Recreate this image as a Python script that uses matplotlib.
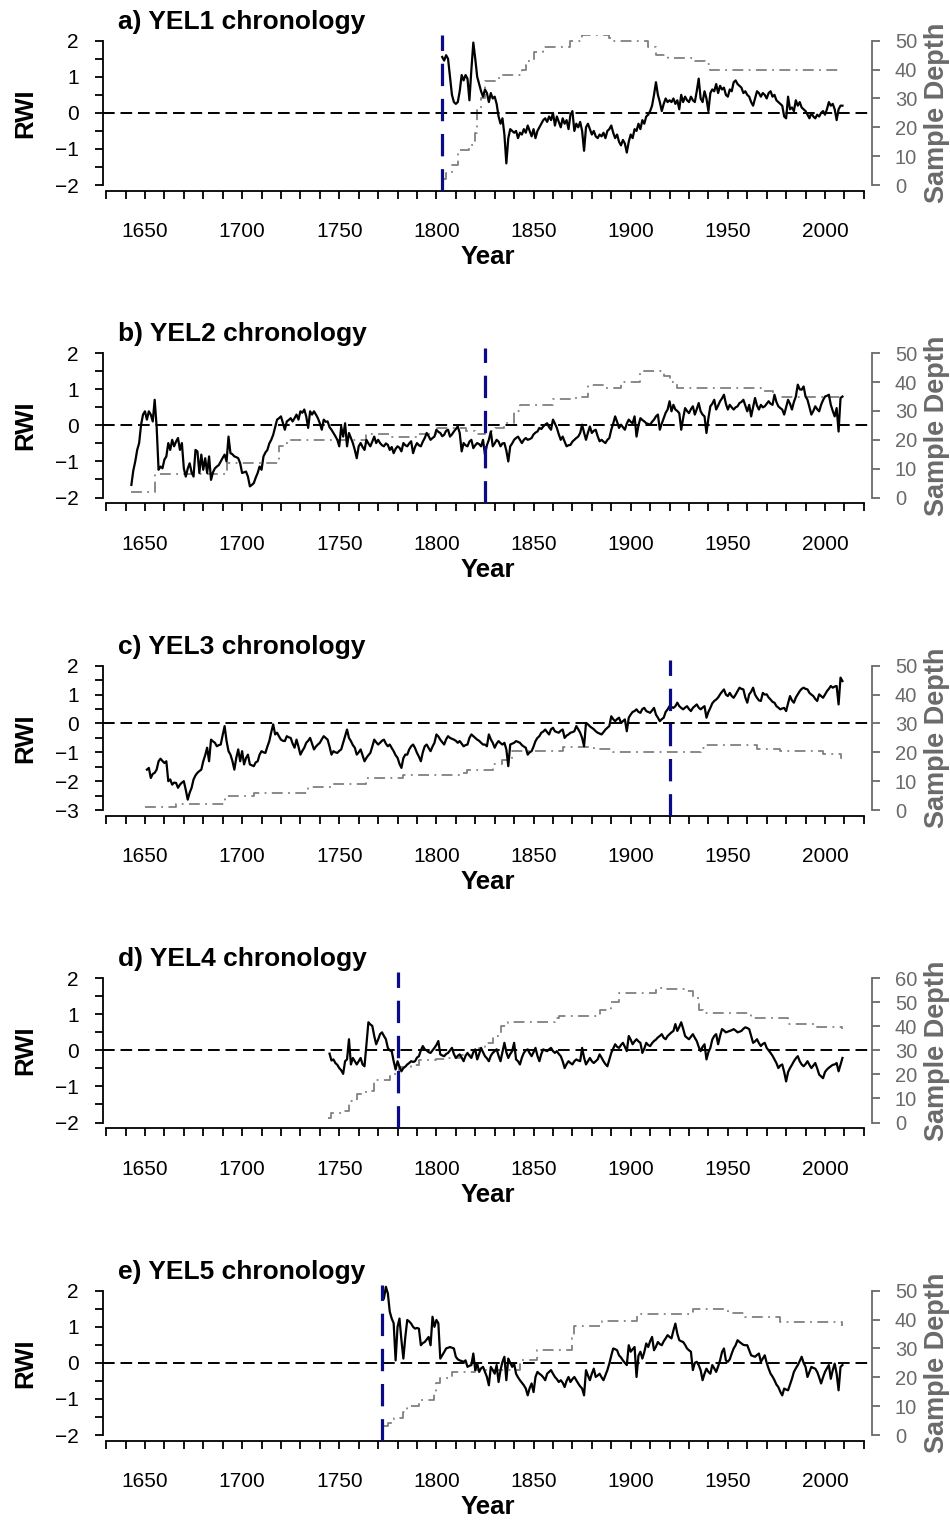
import numpy as np
import matplotlib
matplotlib.use("Agg")
import matplotlib.pyplot as plt
from matplotlib.ticker import FixedLocator, FuncFormatter

plt.rcParams['font.family'] = ['Liberation Sans', 'DejaVu Sans']

# ---- data ----
titles = ["a) YEL1 chronology", "b) YEL2 chronology", "c) YEL3 chronology",
          "d) YEL4 chronology", "e) YEL5 chronology"]

# first year of each RWI series (annual values follow)
rwi_start = [1803, 1643, 1651, 1745, 1773]

rwi_a = [1.55, 1.45, 1.6, 1.5, 1.0, 0.5, 0.3, 0.25, 0.3, 0.6, 1.05, 0.9, 1.05, 0.95, 0.35, 1.2, 1.95,
         1.5, 1.0, 0.8, 0.6, 0.45, 0.65, 0.55, 0.3, 0.55, 0.4, 0.45, 0.25, -0.1, -0.3, -0.15, -0.6,
         -1.4, -0.7, -0.45, -0.5, -0.55, -0.5, -0.7, -0.55, -0.6, -0.45, -0.55, -0.35, -0.5, -0.65,
         -0.45, -0.7, -0.5, -0.4, -0.3, -0.2, -0.15, -0.25, -0.1, -0.2, 0.0, -0.35, -0.1, -0.25, -0.4,
         -0.15, -0.3, -0.2, -0.45, -0.05, 0.05, -0.5, -0.3, -0.4, -0.25, -0.5, -1.05, -0.4, -0.3,
         -0.45, -0.6, -0.5, -0.65, -0.7, -0.6, -0.65, -0.55, -0.7, -0.5, -0.45, -0.35, -0.55, -0.7,
         -0.6, -0.8, -0.9, -0.75, -0.85, -1.1, -0.8, -0.6, -0.7, -0.45, -0.5, -0.3, -0.45, -0.2, -0.3,
         -0.1, -0.05, 0.05, 0.2, 0.5, 0.85, 0.5, 0.3, 0.05, 0.25, 0.4, 0.3, 0.35, 0.3, 0.4, 0.25, 0.35,
         0.1, 0.5, 0.3, 0.45, 0.35, 0.3, 0.45, 0.35, 0.3, 0.6, 0.95, 0.4, 0.3, 0.6, 0.4, 0.05, 0.55,
         0.65, 0.6, 0.8, 0.55, 0.75, 0.65, 0.7, 0.5, 0.45, 0.65, 0.6, 0.85, 0.9, 0.8, 0.75, 0.7, 0.55,
         0.6, 0.5, 0.45, 0.3, 0.2, 0.4, 0.6, 0.55, 0.45, 0.55, 0.5, 0.4, 0.55, 0.6, 0.45, 0.5, 0.35,
         0.3, 0.25, 0.2, -0.1, -0.15, 0.45, 0.1, 0.15, 0.05, 0.35, 0.2, 0.3, 0.15, 0.1, 0.05, -0.05,
         -0.15, 0.0, -0.1, -0.15, -0.05, -0.1, 0.0, 0.05, -0.05, 0.1, 0.3, 0.2, 0.25, 0.1, -0.2, 0.1,
         0.2, 0.2]

rwi_b = [-1.65, -1.25, -1.0, -0.68, -0.49, 0.02, 0.3,
         0.39, 0.16, 0.39, 0.3, 0.11, 0.71, -0.03, -1.23, -1.14, -1.19,
         -0.95, -0.86, -0.49, -0.68, -0.4, -0.58, -0.45, -0.35, -0.68, -0.49,
         -1.19, -1.42, -1.2, -1.05, -1.3, -1.42, -0.68, -0.72, -1.32, -0.81,
         -1.23, -0.91, -1.32, -0.86, -1.51, -1.3, -1.19, -1.14, -1.1, -1.0,
         -0.9, -0.81, -1.0, -0.31, -0.77, -0.8, -0.86, -0.88, -0.91, -1.05,
         -1.32, -1.3, -1.28, -1.42, -1.69, -1.65, -1.6, -1.45, -1.32, -1.14,
         -1.23, -0.86, -0.75, -0.68, -0.5, -0.4, -0.26, -0.05, 0.16, 0.2,
         0.25, 0.06, -0.12, 0.11, 0.15, 0.2, 0.11, 0.2, 0.3, 0.16,
         0.39, 0.35, 0.44, 0.25, -0.07, 0.39, 0.3, 0.39, 0.3, 0.2,
         0.06, -0.12, 0.16, 0.1, 0.11, -0.05, -0.12, -0.21, -0.3, -0.4,
         -0.58, -0.03, -0.31, 0.06, -0.58, -0.21, -0.35, -0.49, -0.68, -0.91,
         -0.58, -0.49, -0.6, -0.68, -0.4, -0.5, -0.58, -0.45, -0.31, -0.49,
         -0.4, -0.49, -0.55, -0.58, -0.5, -0.54, -0.68, -0.6, -0.77, -0.65,
         -0.58, -0.62, -0.72, -0.49, -0.55, -0.58, -0.5, -0.44, -0.77, -0.6,
         -0.49, -0.55, -0.58, -0.45, -0.35, -0.21, -0.3, -0.4, -0.35, -0.31,
         -0.12, -0.18, -0.21, -0.3, -0.26, -0.15, -0.12, -0.31, -0.25, -0.17,
         -0.1, -0.03, -0.21, -0.72, -0.49, -0.55, -0.58, -0.45, -0.4, -0.63,
         -0.55, -0.49, -0.52, -0.58, -0.4, -0.81, -0.55, -0.4, -0.17, -0.58,
         -0.5, -0.4, -0.45, -0.58, -0.5, -0.49, -0.7, -1.0, -0.58, -0.5,
         -0.4, -0.35, -0.31, -0.4, -0.49, -0.4, -0.35, -0.4, -0.38, -0.35,
         -0.25, -0.2, -0.17, -0.07, -0.1, -0.03, 0.02, 0.06, -0.05, -0.12,
         0.16, 0.05, -0.07, -0.25, -0.4, -0.31, -0.45, -0.58, -0.55, -0.54,
         -0.45, -0.4, -0.35, -0.31, -0.21, 0.02, -0.2, -0.4, -0.2, -0.03,
         -0.21, -0.15, -0.12, -0.3, -0.44, -0.4, -0.45, -0.49, -0.4, -0.35,
         -0.12, 0.05, 0.25, 0.1, -0.07, 0.02, -0.05, -0.12, 0.05, 0.16,
         0.1, 0.06, 0.25, -0.31, 0.0, 0.2, 0.15, 0.11, 0.06, 0.04,
         0.02, 0.1, 0.16, 0.25, 0.3, -0.12, 0.05, 0.2, 0.35, 0.44,
         0.67, 0.39, 0.57, 0.44, 0.4, 0.34, -0.12, 0.2, 0.48, 0.4,
         0.34, 0.45, 0.53, 0.3, 0.45, 0.62, 0.39, 0.3, 0.25, -0.21,
         0.2, 0.53, 0.6, 0.71, 0.44, 0.55, 0.67, 0.75, 0.85, 0.6,
         0.44, 0.57, 0.5, 0.44, 0.5, 0.53, 0.62, 0.65, 0.71, 0.55,
         0.39, 0.57, 0.25, 0.5, 0.76, 0.55, 0.44, 0.57, 0.5, 0.53,
         0.6, 0.67, 0.6, 0.57, 0.85, 0.65, 0.53, 0.48, 0.44, 0.3,
         0.5, 0.71, 0.6, 0.44, 0.65, 0.8, 1.13, 1.0, 0.99, 1.08,
         0.8, 0.71, 0.5, 0.3, 0.4, 0.53, 0.45, 0.39, 0.57, 0.7,
         0.8, 0.82, 0.85, 0.57, 0.4, 0.25, 0.48, -0.17, 0.76, 0.8]

rwi_c = [-1.6, -1.54, -1.89, -1.75, -1.71, -1.6, -1.31, -1.22, -1.3,
         -1.37, -1.31, -2.0, -1.94, -2.12, -2.05, -2.06, -2.23, -2.12, -2.05,
         -2.0, -2.3, -2.64, -2.4, -2.23, -1.94, -1.8, -1.71, -1.65, -1.6,
         -1.31, -1.1, -0.84, -1.31, -0.56, -0.62, -0.67, -0.79, -0.75, -0.73,
         -0.4, -0.09, -0.61, -0.96, -1.08, -1.3, -1.6, -1.19, -0.9, -1.31,
         -0.96, -1.42, -1.2, -1.08, -1.42, -1.45, -1.48, -1.35, -1.31, -1.08,
         -0.96, -1.0, -1.02, -0.8, -0.61, -0.3, -0.03, -0.38, -0.32, -0.45,
         -0.56, -0.6, -0.61, -0.44, -0.48, -0.5, -0.7, -0.84, -0.56, -0.8,
         -1.08, -0.95, -0.84, -0.67, -0.6, -0.5, -0.7, -0.9, -0.8, -0.73,
         -0.67, -0.55, -0.44, -0.5, -0.56, -0.8, -1.08, -0.96, -1.0, -1.02,
         -0.95, -0.9, -0.67, -0.45, -0.21, -0.5, -0.61, -0.75, -0.84, -1.08,
         -1.0, -0.9, -1.1, -1.31, -1.19, -1.1, -1.02, -0.8, -0.56, -0.65,
         -0.73, -0.67, -0.6, -0.56, -0.7, -0.79, -0.73, -0.85, -0.96, -1.1,
         -1.19, -1.4, -1.54, -1.2, -1.08, -1.08, -0.9, -0.79, -0.73, -0.85,
         -1.02, -1.15, -1.31, -1.0, -0.79, -0.73, -0.85, -0.96, -0.8, -0.67,
         -0.38, -0.45, -0.56, -0.65, -0.73, -0.55, -0.44, -0.5, -0.53, -0.56,
         -0.6, -0.67, -0.61, -0.7, -0.79, -0.75, -0.73, -0.5, -0.38, -0.44,
         -0.5, -0.56, -0.6, -0.67, -0.73, -0.73, -0.79, -0.38, -0.55, -0.67,
         -0.84, -0.7, -0.61, -0.68, -0.73, -0.67, -0.9, -1.48, -0.73, -0.7,
         -0.67, -0.61, -0.64, -0.67, -0.75, -0.8, -0.84, -1.08, -1.0, -0.96,
         -0.8, -0.61, -0.5, -0.44, -0.32, -0.28, -0.21, -0.3, -0.38, -0.2,
         -0.15, -0.27, -0.3, -0.32, -0.25, -0.21, -0.5, -0.42, -0.38, -0.32,
         -0.3, -0.27, -0.09, -0.2, -0.32, -0.5, -0.79, 0.02, -0.03, -0.1,
         -0.15, -0.2, -0.27, -0.32, -0.35, -0.38, -0.3, -0.21, -0.15, -0.09,
         0.25, 0.15, 0.08, 0.15, 0.2, 0.02, 0.08, 0.14, -0.27, 0.2,
         0.31, 0.4, 0.43, 0.49, 0.4, 0.37, 0.5, 0.54, 0.43, 0.4,
         0.37, 0.45, 0.54, 0.31, 0.2, 0.08, 0.15, 0.2, 0.4, 0.49,
         0.6, 0.57, 0.54, 0.6, 0.72, 0.6, 0.54, 0.49, 0.55, 0.6,
         0.5, 0.43, 0.54, 0.6, 0.66, 0.55, 0.49, 0.55, 0.6, 0.2,
         0.4, 0.54, 0.7, 0.78, 0.83, 0.9, 1.01, 1.1, 1.18, 1.0,
         0.95, 1.06, 0.95, 0.89, 1.0, 1.12, 1.24, 1.2, 1.18, 0.9,
         0.72, 1.01, 1.1, 1.24, 1.0, 0.89, 0.8, 0.78, 1.06, 1.0,
         1.01, 0.9, 0.83, 0.75, 0.72, 0.6, 0.55, 0.49, 0.52, 0.54,
         0.43, 0.7, 0.95, 0.8, 0.72, 0.9, 1.01, 1.12, 1.2, 1.24,
         1.2, 1.18, 1.06, 1.0, 0.95, 0.85, 0.78, 1.01, 0.95, 0.89,
         1.0, 1.12, 1.2, 1.3, 1.24, 1.28, 1.3, 0.66, 1.59, 1.47]

rwi_d = [-0.09, -0.28, -0.25, -0.35, -0.4,
         -0.49, -0.55, -0.65, -0.3, -0.25, 0.31, -0.39, -0.21, -0.3, -0.39,
         -0.3, -0.21, -0.39, -0.44, 0.17, 0.78, 0.72, 0.68, 0.4, 0.17,
         0.3, 0.45, 0.5, 0.4, 0.31, 0.07, 0.0, -0.02, -0.3, -0.53,
         -0.3, -0.45, -0.58, -0.49, -0.45, -0.39, -0.35, -0.3, -0.32, -0.3,
         -0.2, -0.16, 0.0, 0.12, 0.03, 0.0, -0.05, -0.07, 0.0, 0.07,
         0.15, 0.26, -0.11, -0.14, -0.16, -0.1, -0.07, 0.0, 0.07, -0.1,
         -0.21, -0.15, -0.11, -0.2, -0.3, -0.15, -0.07, -0.15, -0.21, -0.05,
         0.03, -0.25, -0.1, 0.07, -0.05, -0.16, -0.22, -0.3, -0.15, -0.07,
         -0.02, 0.03, -0.15, -0.3, -0.05, 0.21, -0.05, -0.21, -0.1, -0.02,
         0.21, -0.25, -0.3, -0.39, -0.2, -0.07, 0.0, 0.03, -0.08, -0.16,
         -0.05, 0.07, -0.15, -0.3, -0.1, 0.03, 0.0, -0.02, 0.03, 0.07,
         -0.02, -0.07, -0.02, -0.1, -0.16, -0.3, -0.49, -0.38, -0.3, -0.35,
         -0.39, -0.3, -0.25, -0.28, -0.3, 0.07, -0.2, -0.39, -0.3, -0.21,
         -0.3, -0.35, -0.3, -0.25, -0.11, -0.2, -0.3, -0.38, -0.44, -0.25,
         -0.07, 0.05, 0.17, 0.1, 0.07, 0.15, 0.21, 0.1, -0.02, 0.4,
         0.3, 0.17, 0.25, 0.31, 0.25, 0.21, -0.07, 0.05, 0.21, 0.15,
         0.12, 0.2, 0.26, 0.3, 0.36, 0.4, 0.45, 0.35, 0.31, 0.4,
         0.45, 0.5, 0.54, 0.73, 0.54, 0.65, 0.78, 0.6, 0.4, 0.35,
         0.31, 0.38, 0.45, 0.35, 0.26, 0.1, -0.02, 0.1, 0.17, -0.25,
         -0.05, 0.07, 0.3, 0.4, 0.45, 0.17, 0.4, 0.59, 0.55, 0.5,
         0.52, 0.54, 0.56, 0.59, 0.55, 0.5, 0.52, 0.54, 0.6, 0.64,
         0.62, 0.59, 0.4, 0.21, 0.25, 0.31, 0.2, 0.12, 0.18, 0.21,
         0.07, 0.0, -0.07, -0.15, -0.25, -0.35, -0.49, -0.42, -0.39, -0.6,
         -0.86, -0.6, -0.49, -0.4, -0.3, -0.22, -0.16, -0.3, -0.39, -0.44,
         -0.38, -0.3, -0.4, -0.49, -0.42, -0.35, -0.5, -0.67, -0.72, -0.77,
         -0.6, -0.53, -0.48, -0.44, -0.4, -0.39, -0.35, -0.58, -0.4, -0.21]

rwi_e = [1.79, 2.11, 1.93, 1.42, 1.23, 1.1, 0.07,
         1.0, 1.23, 0.63, 0.12, 0.72, 1.19, 1.15, 1.09, 1.0, 0.95,
         0.97, 0.95, 0.49, 0.55, 0.58, 0.65, 0.72, 0.49, 1.28, 1.0,
         1.19, 1.1, 0.12, 0.21, 0.3, 0.4, 0.42, 0.44, 0.42, 0.4,
         0.17, 0.1, 0.07, 0.05, 0.03, 0.07, -0.11, -0.08, -0.06, 0.26,
         -0.2, -0.02, -0.25, -0.15, -0.11, -0.25, -0.39, -0.62, -0.11, -0.2,
         -0.3, -0.06, -0.53, -0.2, 0.03, 0.17, -0.48, 0.12, 0.0, -0.11,
         -0.02, -0.3, -0.4, -0.48, -0.55, -0.62, -0.71, -0.9, -0.7, -0.57,
         -0.81, -0.39, -0.25, -0.3, -0.34, -0.4, -0.48, -0.3, -0.25, -0.2,
         -0.3, -0.39, -0.45, -0.53, -0.48, -0.55, -0.67, -0.5, -0.39, -0.53,
         -0.45, -0.39, -0.48, -0.57, -0.65, -0.71, -0.9, -0.2, -0.35, -0.48,
         -0.3, -0.16, -0.39, -0.35, -0.3, -0.4, -0.48, -0.34, -0.2, -0.02,
         0.2, 0.4, 0.38, 0.35, 0.21, 0.15, 0.07, 0.0, -0.06, 0.49,
         0.31, 0.38, 0.44, -0.39, 0.2, 0.31, 0.12, 0.3, 0.54, 0.44,
         0.6, 0.72, 0.35, 0.45, 0.58, 0.52, 0.49, 0.6, 0.68, 0.77,
         0.72, 0.68, 0.9, 1.09, 0.81, 0.63, 0.6, 0.58, 0.5, 0.4,
         0.35, 0.31, -0.2, 0.0, 0.03, -0.06, -0.2, -0.48, -0.3, -0.16,
         -0.25, -0.3, -0.06, -0.15, -0.25, -0.1, 0.07, 0.3, 0.4, 0.07,
         0.03, 0.1, 0.26, 0.4, 0.49, 0.63, 0.58, 0.54, 0.5, 0.49,
         0.49, 0.35, 0.21, 0.19, 0.17, 0.22, 0.26, 0.03, 0.12, 0.21,
         0.0, -0.16, -0.3, -0.38, -0.48, -0.6, -0.67, -0.8, -0.9, -0.71,
         -0.74, -0.76, -0.6, -0.44, -0.25, -0.15, -0.06, 0.05, 0.17, 0.0,
         -0.11, -0.39, -0.25, -0.11, -0.14, -0.16, -0.25, -0.4, -0.57, -0.4,
         -0.25, -0.15, -0.06, -0.44, -0.2, -0.02, -0.3, -0.76, -0.11, -0.06]

# sample depth, as (year of change, number of series)
depth_years_a = [1803, 1805, 1808, 1811, 1817, 1820, 1821, 1823, 1825, 1831, 1833, 1844, 1846,
                 1850, 1855, 1869, 1875, 1889, 1891, 1909, 1913, 1919, 1932, 1938, 1941, 2009]
depth_a = [2, 4, 7, 12, 14, 18, 26, 30, 36, 37, 38, 40, 43, 46, 48, 50, 52, 51, 50, 48, 45, 44,
           43, 42, 40, 40]

depth_years_b = [1643, 1655, 1692, 1719, 1723, 1764, 1776, 1790, 1800, 1815, 1820, 1825, 1830,
                 1835, 1840, 1843, 1860, 1872, 1878, 1886, 1895, 1905, 1907, 1917, 1920, 1924,
                 1967, 1973, 2009]
depth_b = [2, 8, 12, 18, 20, 22, 21, 22, 24, 23, 22, 23, 24, 26, 30, 32, 34, 35, 39, 38, 40, 43,
           44, 42, 40, 38, 37, 35, 35]

depth_years_c = [1650, 1666, 1691, 1706, 1734, 1747, 1764, 1783, 1812, 1816, 1829, 1834, 1839,
                 1865, 1881, 1891, 1936, 1939, 1965, 1977, 1999, 2008, 2009]
depth_c = [1, 2, 5, 6, 8, 9, 11, 12, 13, 14, 16, 17.5, 20.5, 22, 21, 20, 21.5, 22.5, 21, 20.5,
           19.5, 18, 18]

depth_years_d = [1744, 1746, 1752, 1755, 1759, 1764, 1768, 1776, 1781, 1787, 1791, 1800, 1806,
                 1812, 1818, 1822, 1825, 1829, 1833, 1837, 1861, 1863, 1884, 1890, 1894, 1913,
                 1917, 1928, 1932, 1935, 1937, 1962, 1981, 1996, 2009]
depth_d = [2, 4, 5, 9, 12, 13, 17.5, 20, 23, 24, 26, 26.5, 27, 28, 30, 31, 33, 36, 40, 42, 43.5,
           44.5, 47, 50, 54, 56, 55.5, 54.5, 52, 47, 45.7, 43.5, 41, 39.7, 39]

depth_years_e = [1773, 1775, 1778, 1783, 1785, 1791, 1799, 1800, 1802, 1808, 1820, 1843, 1852,
                 1870, 1871, 1885, 1903, 1932, 1950, 1959, 1977, 2009]
depth_e = [3, 4, 6, 8, 10, 12, 14.5, 18, 19.6, 22, 22.5, 26, 29.6, 33.6, 37.7, 39.5, 41.8, 43.6,
           42.4, 41, 39.1, 37.7]

# year where the blue dashed cut-off line sits
cutoff_years = [1803, 1825, 1920, 1780, 1772]

rwi_all = [rwi_a, rwi_b, rwi_c, rwi_d, rwi_e]
depth_years_all = [depth_years_a, depth_years_b, depth_years_c, depth_years_d, depth_years_e]
depth_all = [depth_a, depth_b, depth_c, depth_d, depth_e]
rwi_limits = [(-2, 2), (-2, 2), (-3, 2), (-2, 2), (-2, 2)]
depth_max = [50, 50, 50, 60, 50]

# ---- drawing ----
W, H = 950, 1522
fig = plt.figure(figsize=(W / 100, H / 100), dpi=100)

grey_line = '#808080'
grey_axis = '#6a6a6a'
navy = '#0b0b8a'

left_px, width_px, height_px = 103, 769, 155.8

for i in range(5):
    top = 35 + i * 312.5
    ax = fig.add_axes([left_px / W, 1 - (top + height_px) / H, width_px / W, height_px / H])
    ax2 = ax.twinx()
    ax.set_zorder(ax2.get_zorder() + 1)
    ax.patch.set_visible(False)

    # sample depth (right axis)
    ax2.plot(depth_years_all[i], depth_all[i], color=grey_line, lw=1.3,
             drawstyle='steps-post', dashes=(6, 3, 1, 3))
    dm = depth_max[i]
    ax2.set_ylim(-0.04 * dm, dm * 1.04)
    ax2.yaxis.set_major_locator(FixedLocator(np.arange(0, dm + 1, 10)))
    for s in ['top', 'left', 'bottom']:
        ax2.spines[s].set_visible(False)
    ax2.spines['right'].set_bounds(0, dm)
    ax2.spines['right'].set_color(grey_axis)
    ax2.spines['right'].set_linewidth(1.3)
    ax2.tick_params(axis='y', colors=grey_axis, labelsize=14.5, length=5.5, width=1.3, pad=11)
    ax.text(1.085, 0.5, 'Sample Depth', transform=ax.transAxes, rotation=90,
            ha='center', va='center', color=grey_axis, fontsize=19.5, fontweight='bold')

    # RWI (left axis)
    vals = rwi_all[i]
    years = np.arange(rwi_start[i], rwi_start[i] + len(vals))
    ax.axhline(0, color='black', lw=1.4, dashes=(6, 3), zorder=1)
    ax.plot(years, vals, color='black', lw=1.6, zorder=2)
    ax.axvline(cutoff_years[i], color=navy, lw=2.3, dashes=(7, 4), zorder=3)

    lo, hi = rwi_limits[i]
    span = hi - lo
    ax.set_ylim(lo - 0.04 * span, hi + 0.04 * span)
    ax.set_xlim(1628.4, 2024.2)

    ax.xaxis.set_major_locator(FixedLocator(np.arange(1630, 2021, 10)))
    ax.xaxis.set_major_formatter(FuncFormatter(
        lambda v, p: f"{int(round(v))}" if (round(v) % 50 == 0 and 1650 <= v <= 2000) else ""))
    ax.yaxis.set_major_locator(FixedLocator(np.arange(lo, hi + 0.01, 0.5)))
    ax.yaxis.set_major_formatter(FuncFormatter(
        lambda v, p: f"{int(round(v))}".replace('-', '\u2212') if abs(v - round(v)) < 1e-6 else ""))

    for s in ['top', 'right']:
        ax.spines[s].set_visible(False)
    ax.spines['left'].set_bounds(lo, hi)
    ax.spines['bottom'].set_bounds(1630, 2020)
    ax.spines['left'].set_linewidth(1.3)
    ax.spines['bottom'].set_linewidth(1.3)
    ax.tick_params(axis='x', labelsize=15, length=5.5, width=1.3, pad=17)
    ax.tick_params(axis='y', labelsize=15, length=5.5, width=1.3, pad=12)

    ax.text(0.5, -0.425, 'Year', transform=ax.transAxes, ha='center', va='center',
            fontsize=18.5, fontweight='bold')
    ax.text(-0.101, 0.5, 'RWI', transform=ax.transAxes, rotation=90,
            ha='center', va='center', fontsize=18.5, fontweight='bold')
    ax.text(0.0195, 1.04, titles[i], transform=ax.transAxes, ha='left', va='baseline',
            fontsize=19, fontweight='bold')

fig.savefig('out.png', dpi=100)
